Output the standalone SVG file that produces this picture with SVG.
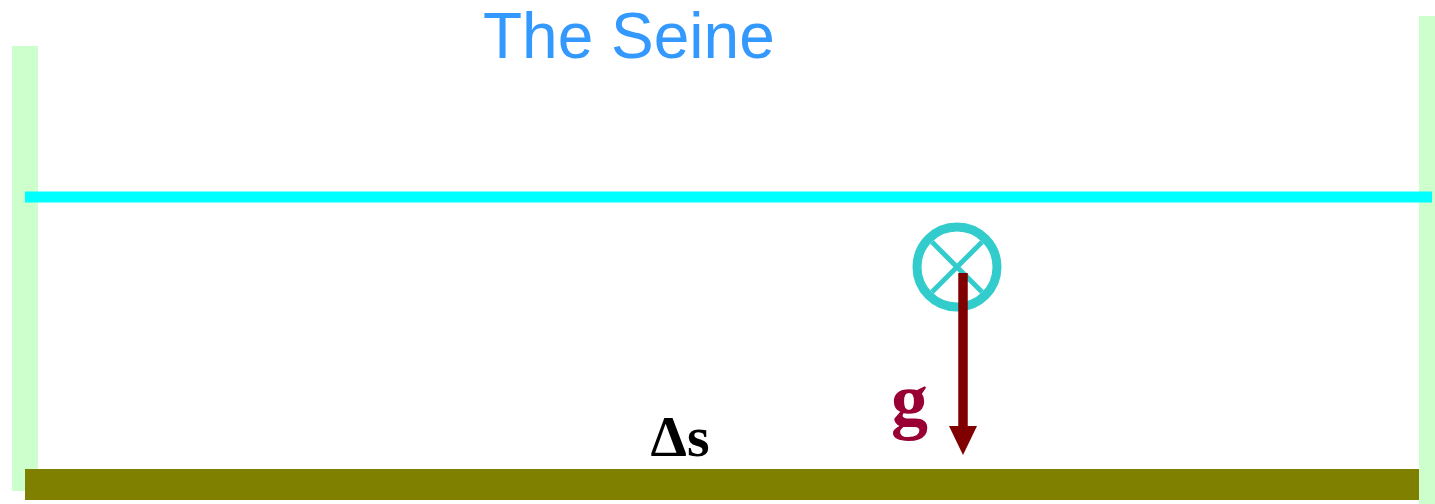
<svg xmlns="http://www.w3.org/2000/svg" width="1435" height="504" viewBox="0 0 1435 504">
<style>
.wall{fill:#ccffcc}
.sym{fill:none;stroke:#33cccc}
</style>
<defs>
<marker id="ah" markerWidth="29" markerHeight="28" refX="0" refY="14" orient="auto" markerUnits="userSpaceOnUse" viewBox="0 0 29 28">
<path d="M0,0 L29,14 L0,28 Z" fill="#800000"/>
</marker>
</defs>
<rect width="1435" height="504" fill="#ffffff"/>
<g id="left-bank"><rect class="wall" x="12" y="46" width="26" height="445"/></g>
<g id="right-bank"><rect class="wall" x="1419" y="16" width="16" height="488"/></g>
<g id="surface"><rect x="25" y="191.5" width="1407" height="11" fill="#00ffff"/></g>
<g id="bed"><rect x="25" y="469" width="1394" height="31" fill="#808000"/></g>
<g id="title"><text x="483" y="58" font-family="Liberation Sans, Arial, sans-serif" font-size="64" fill="#3399ff">The Seine</text></g>
<g id="current">
<circle class="sym" cx="957" cy="267" r="40" stroke-width="9"/>
<line class="sym" x1="932" y1="242" x2="982" y2="292" stroke-width="5"/>
<line class="sym" x1="982" y1="242" x2="932" y2="292" stroke-width="5"/>
</g>
<g id="connectors">
<line x1="963" y1="273" x2="963" y2="426" stroke="#800000" stroke-width="9.5" marker-end="url(#ah)"/>
</g>
<g id="g-label"><text x="891" y="425" font-family="Liberation Serif, Times New Roman, serif" font-weight="bold" font-size="74" fill="#990033">g</text></g>
<g id="ds-label"><text x="680" y="456" text-anchor="middle" font-family="Liberation Serif, Times New Roman, serif" font-weight="bold" font-size="58" fill="#000000">Δs</text></g>
</svg>
